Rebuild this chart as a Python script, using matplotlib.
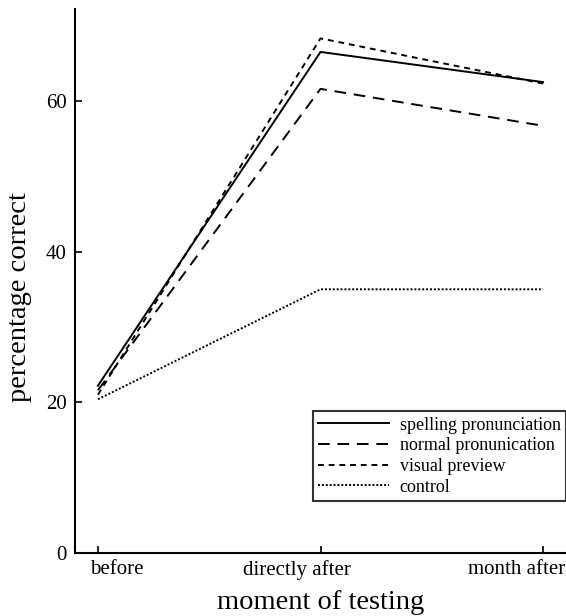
import matplotlib
matplotlib.use("Agg")
import matplotlib.pyplot as plt
from matplotlib.transforms import ScaledTranslation

moments = ["before", "directly after", "month after"]
spelling = [22.2, 66.5, 62.5]
normal = [21.6, 61.6, 56.7]
visual = [21.0, 68.3, 62.3]
control = [20.4, 35.0, 35.0]
series_labels = ["spelling pronunciation", "normal pronunication", "visual preview", "control"]
yticks = [0, 20, 40, 60]

plt.rcParams['font.family'] = ['Liberation Serif', 'DejaVu Serif']

fig = plt.figure(figsize=(5.66, 6.16), dpi=100)
ax = fig.add_axes([75/566, 63/616, 491/566, 544/616])

x = list(range(len(moments)))
lw = 1.4
ax.plot(x, spelling, color='black', lw=lw, linestyle='-', label=series_labels[0])
ax.plot(x, normal, color='black', lw=lw, linestyle=(0, (6, 4)), label=series_labels[1])
ax.plot(x, visual, color='black', lw=lw, linestyle=(0, (3, 2.5)), label=series_labels[2])
ax.plot(x, control, color='black', lw=lw, linestyle=(0, (1, 1)), label=series_labels[3])

ax.set_xlim(-0.103, 2.103)
ax.set_ylim(0, 72.2)
ax.set_xticks(x)
ax.set_xticklabels(moments)
ax.set_yticks(yticks)
ax.tick_params(direction='in', length=5, width=1.2, labelsize=15, colors='black')
ax.tick_params(axis='y', pad=6)
ax.tick_params(axis='x', pad=5)
for s in ['top', 'right']:
    ax.spines[s].set_visible(False)
for s in ['left', 'bottom']:
    ax.spines[s].set_linewidth(1.5)

# tick labels in the reference are not centred on their ticks
offsets_px = [19, -24, -26]
for lab, dx in zip(ax.get_xticklabels(), offsets_px):
    lab.set_transform(lab.get_transform() + ScaledTranslation(dx / 100, 0, fig.dpi_scale_trans))

ax.set_xlabel("moment of testing", fontsize=20.5, labelpad=7)
ax.set_ylabel("percentage correct", fontsize=20.5)
ax.yaxis.set_label_coords(-0.088, 0.47)

leg = ax.legend(loc='lower right', bbox_to_anchor=(1.0, 52/544), borderaxespad=0,
                fontsize=13, frameon=True, fancybox=False, handlelength=3.9,
                handletextpad=0.6, labelspacing=0.2, borderpad=0.3)
leg.get_frame().set_edgecolor('black')
leg.get_frame().set_linewidth(1.5)

fig.savefig("out.png", dpi=100)
